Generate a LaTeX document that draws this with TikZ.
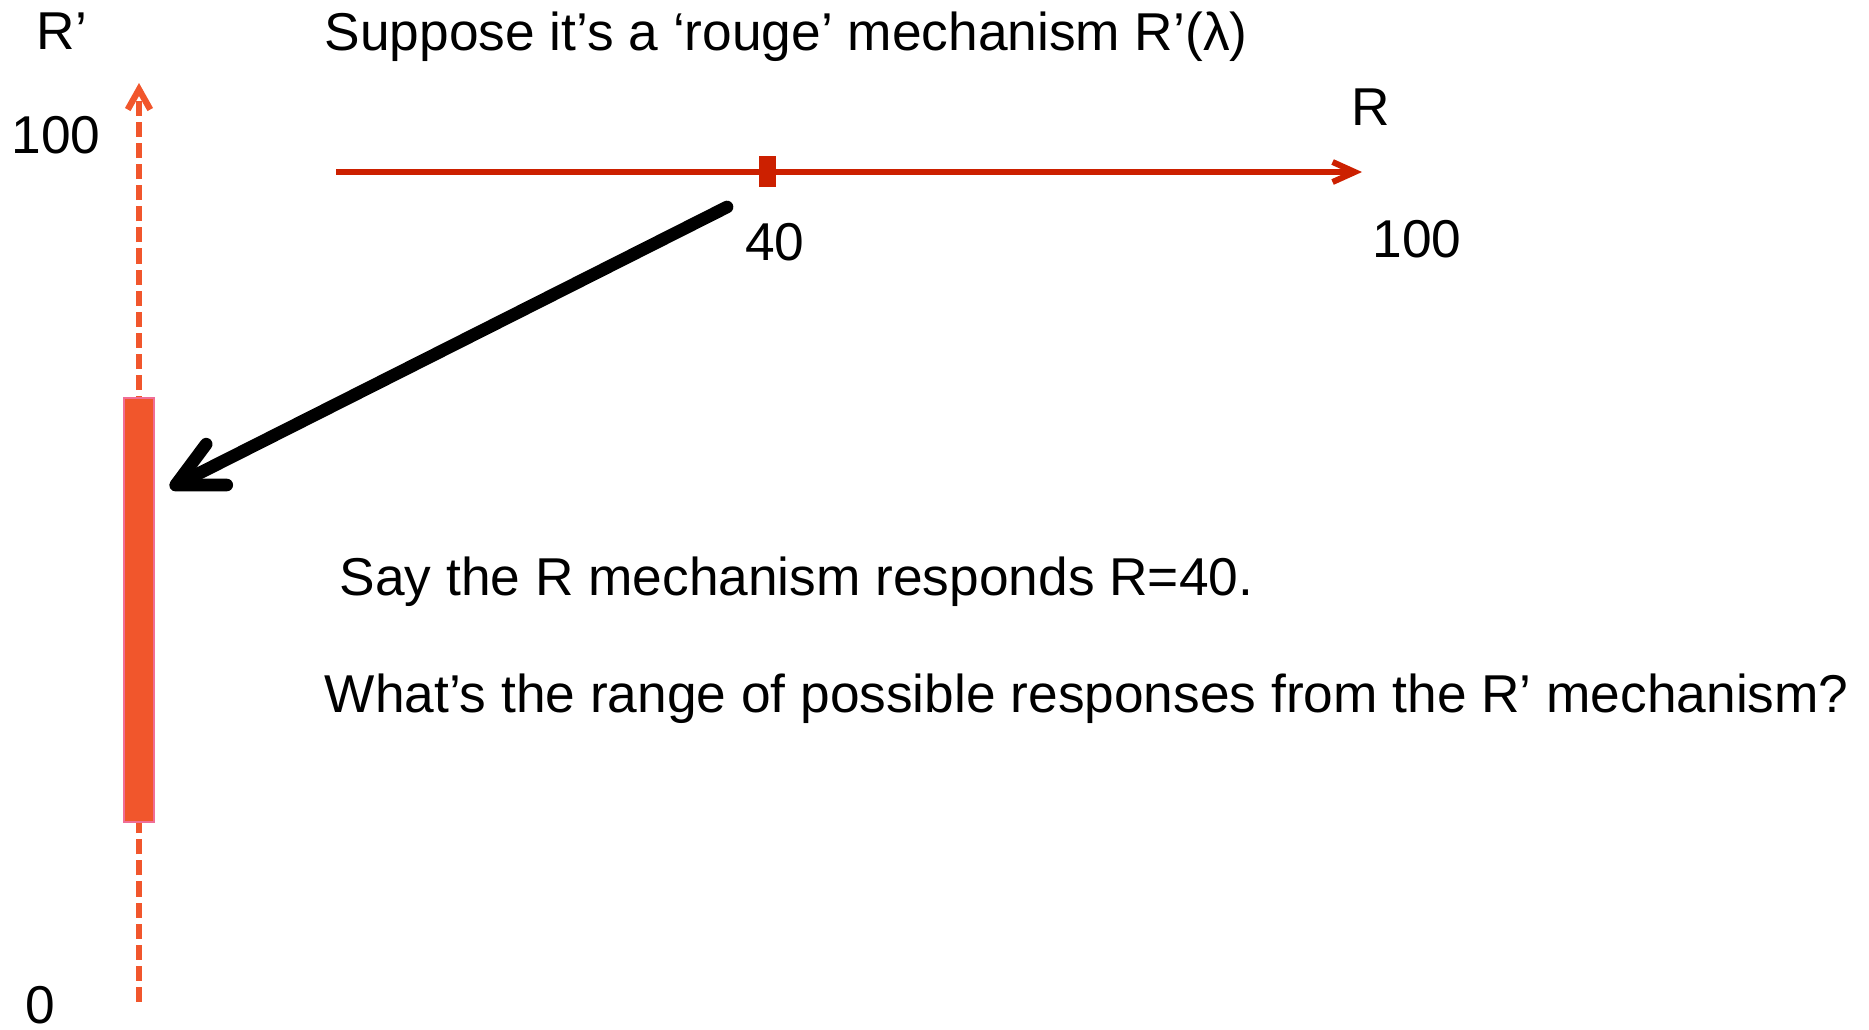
\documentclass[tikz,border=0pt]{standalone}
\usepackage{fontspec}
\setmainfont{Liberation Sans}
\usetikzlibrary{arrows.meta}
\definecolor{axisred}{RGB}{204,32,0}
\definecolor{barorange}{RGB}{241,86,44}
\definecolor{barpink}{RGB}{240,110,150}
\begin{document}
\begin{tikzpicture}[x=0.01cm, y=-0.01cm,
    every node/.style={inner sep=0pt, font=\fontsize{15.15}{18}\selectfont},
    lbl/.style={anchor=base west},
    num/.style={anchor=base}]
  \useasboundingbox (0,0) rectangle (1869,1029);

  % R' axis
  \coordinate (ybot) at (139,1002);
  \coordinate (ytop) at (139,83);
  \draw[barorange, line width=1.8pt, dash pattern=on 4.3pt off 1.7pt,
        -{Straight Barb[length=5.7pt, width=6.4pt]}] (ybot) -- (ytop);
  \node[draw=barpink, fill=barorange, line width=0.6pt,
        minimum width=0.30cm, minimum height=4.24cm] (rbar) at (139,610) {};

  % R axis
  \coordinate (xl) at (336,172);
  \coordinate (xr) at (1362,172);
  \draw[axisred, line width=1.7pt, -{Straight Barb[length=6.3pt, width=5.7pt]}] (xl) -- (xr);
  \node[fill=axisred, minimum width=0.17cm, minimum height=0.31cm] (m40) at (767,171.5) {};

  \node[num] (t40) at (775,260) {40};
  \node[num] (tR) at (1371,125) {R};
  \node[num] (t100r) at (1417,257) {100};
  \node[lbl] (tRp) at (36,49) {R’};
  \node[lbl] (t100) at (11,153) {100};
  \node[lbl] (t0) at (25,1023) {0};

  \node[lbl] (title) at (324,50) {Suppose it’s a ‘rouge’ mechanism R’(λ)};
  \node[lbl] (say) at (339,595) {Say the R mechanism responds R=40.};
  \node[lbl] (ask) at (324,712) {What’s the range of possible responses from the R’ mechanism?};

  % pointer to the bar
  \coordinate (tail) at (727,207);
  \coordinate (tip) at (170,488);
  \draw[line width=3.6pt, line cap=round,
        -{Straight Barb[round, length=13pt, width=13pt]}] (tail) -- (tip);
\end{tikzpicture}
\end{document}
